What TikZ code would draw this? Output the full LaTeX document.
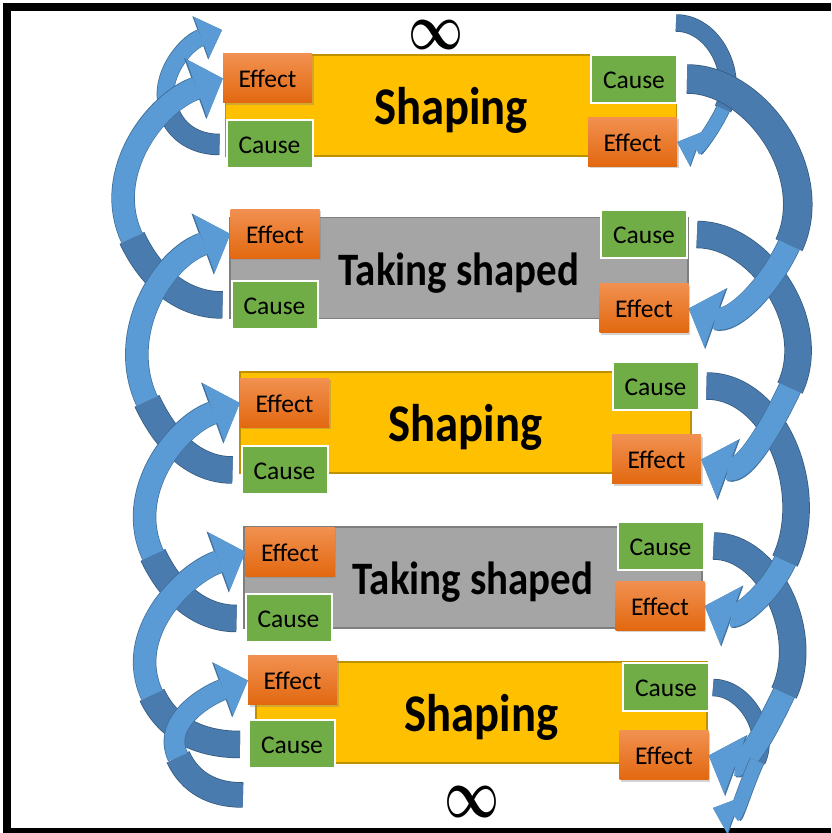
\documentclass[tikz,border=0pt]{standalone}
\usepackage{fontspec}
\setmainfont{Carlito}
\usetikzlibrary{arrows.meta,shadows}

\definecolor{barYellow}{HTML}{FFC000}
\definecolor{barYellowLine}{HTML}{BF9000}
\definecolor{barGrey}{HTML}{A5A5A5}
\definecolor{barGreyLine}{HTML}{7F7F7F}
\definecolor{effTop}{HTML}{F19050}
\definecolor{effBot}{HTML}{E2680F}
\definecolor{causeGreen}{HTML}{70AD47}
\definecolor{ribbonFront}{HTML}{5B9BD5}
\definecolor{ribbonBack}{HTML}{4A7BAE}
\definecolor{ribbonLine}{HTML}{41719C}

\tikzset{
  every node/.style={inner sep=0pt},
  shapebar/.style={fill=barYellow,draw=barYellowLine,line width=1.5pt,
    minimum width=451pt,minimum height=101pt,
    font=\fontsize{53}{60}\selectfont\bfseries,text height=39pt,text depth=0pt},
  takenbar/.style={shapebar,fill=barGrey,draw=barGreyLine,minimum width=458pt,
    font=\fontsize{46.5}{52}\selectfont\bfseries,text height=35pt},
  effbox/.style={minimum width=89pt,minimum height=49pt,
    top color=effTop,bottom color=effBot,
    drop shadow={shadow xshift=1.5pt,shadow yshift=-2pt,opacity=.35},
    font=\fontsize{25.5}{30}\selectfont,text height=19pt,text depth=0pt},
  causebox/.style={fill=causeGreen,draw=white,line width=2pt,
    minimum width=86pt,minimum height=48pt,
    font=\fontsize{25.5}{30}\selectfont,text height=18.5pt,text depth=0pt},
  backpart/.style={draw=ribbonBack,line width=#1,
    preaction={draw=ribbonLine!80!black,line width=#1+1.5pt}},
  frontpart/.style n args={3}{draw=ribbonFront,line width=#1,
    -{Triangle[width=#2,length=#3,line width=0pt]},
    preaction={draw=ribbonLine,line width=#1+1.5pt,
      -{Triangle[width=#2,length=#3,line width=0pt,scale=1.05]}}}
}

\begin{document}
\begin{tikzpicture}[x=1pt,y=1pt]
\useasboundingbox (0,0) rectangle (831,833);
% frame
\draw [black,line width=8pt] (831,826) -- (7,826) -- (7,0);
\draw [black,line width=5pt] (7,2.5) -- (831,2.5);

% bars
\node [shapebar] (bar1) at (451,727.5) {\scalebox{.88}[1]{Shaping}};
\node [takenbar] (bar2) at (459,565) {\scalebox{.88}[1]{Taking shaped}};
\node [shapebar] (bar3) at (465.5,410.5) {\scalebox{.88}[1]{Shaping}};
\node [takenbar] (bar4) at (473,255.5) {\scalebox{.88}[1]{Taking shaped}};
\node [shapebar] (bar5) at (481.5,120.5) {\scalebox{.88}[1]{Shaping}};

% effect / cause boxes
\node [effbox] (e1L) at (267.5,754.5) {Effect};
\node [causebox] (c1L) at (269.5,688.5) {Cause};
\node [causebox] (c1R) at (634,754) {Cause};
\node [effbox] (e1R) at (632.5,691) {Effect};

\node [effbox] (e2L) at (275,599) {Effect};
\node [causebox] (c2L) at (274.5,528) {Cause};
\node [causebox] (c2R) at (644,598.5) {Cause};
\node [effbox] (e2R) at (644,524.5) {Effect};

\node [effbox] (e3L) at (284.5,430) {Effect};
\node [causebox] (c3L) at (284.5,363) {Cause};
\node [causebox] (c3R) at (655.5,447) {Cause};
\node [effbox] (e3R) at (656.5,373.5) {Effect};

\node [effbox] (e4L) at (290,281) {Effect};
\node [causebox] (c4L) at (288.5,214.5) {Cause};
\node [causebox] (c4R) at (660.5,287) {Cause};
\node [effbox] (e4R) at (660,227) {Effect};

\node [effbox] (e5L) at (292.5,152.5) {Effect};
\node [causebox] (c5L) at (292,88.5) {Cause};
\node [causebox] (c5R) at (666,145.5) {Cause};
\node [effbox] (e5R) at (664,77.5) {Effect};

% infinity marks
\node (inftop) at (436,798) {\resizebox{55pt}{29pt}{\boldmath$\infty$}};
\node (infbot) at (472,31) {\resizebox{55pt}{31pt}{\boldmath$\infty$}};

% free ends and points where a ribbon turns from back to front
\coordinate (topL) at (222,803);
\coordinate (botL) at (243,38);
\coordinate (topR) at (676,810);
\coordinate (botR) at (713,25);
\coordinate (sl0) at (170,718);
\coordinate (sl1) at (132,595);
\coordinate (sl2) at (147,432);
\coordinate (sl3) at (153,278);
\coordinate (sl4) at (152,138);
\coordinate (sl5) at (178,76);
\coordinate (sr0) at (723,724);
\coordinate (sr1) at (789,588);
\coordinate (sr2) at (790,445);
\coordinate (sr3) at (785,272);
\coordinate (sr4) at (784,140);
\coordinate (sr5) at (757,72);

% back halves of the ribbons
\draw [backpart=20pt,shorten <=6pt] (c1L.west) to[out=180,in=295] (sl0);
\draw [backpart=26pt,shorten <=8pt] (c2L.west) to[out=180,in=295] (sl1);
\draw [backpart=26pt,shorten <=8pt] (c3L.west) to[out=180,in=295] (sl2);
\draw [backpart=26pt,shorten <=8pt] (c4L.west) to[out=180,in=295] (sl3);
\draw [backpart=26pt,shorten <=8pt] (c5L.west) to[out=180,in=295] (sl4);
\draw [backpart=24pt] (botL) to[out=180,in=295] (sl5);
\draw [backpart=16pt] (topR) to[out=0,in=65] (sr0);
\draw [backpart=28pt,shorten <=9pt] (c1R.east) to[out=0,in=65] (sr1);
\draw [backpart=26pt,shorten <=9pt] (c2R.east) to[out=0,in=65] (sr2);
\draw [backpart=26pt,shorten <=7pt] (c3R.east) to[out=0,in=65] (sr3);
\draw [backpart=26pt,shorten <=9pt] (c4R.east) to[out=0,in=65] (sr4);
\draw [backpart=16pt,shorten <=3pt] (c5R.east) to[out=0,in=65] (sr5);

% front halves with heads
\draw [frontpart={16pt}{44pt}{22pt}] (sl0) to[out=115,in=200] (topL);
\draw [frontpart={22pt}{62pt}{28pt}] (sl1) to[out=115,in=200] (e1L.west);
\draw [frontpart={22pt}{62pt}{28pt}] (sl2) to[out=115,in=200] (e2L.west);
\draw [frontpart={22pt}{62pt}{28pt}] (sl3) to[out=115,in=200] (e3L.west);
\draw [frontpart={22pt}{62pt}{28pt}] (sl4) to[out=115,in=200] (e4L.west);
\draw [frontpart={20pt}{56pt}{26pt}] (sl5) to[out=115,in=200] (e5L.west);
\draw [frontpart={13pt}{36pt}{20pt}] (sr0) to[out=245,in=-20] (e1R.east);
\draw [frontpart={22pt}{62pt}{28pt}] (sr1) to[out=245,in=-20] (e2R.east);
\draw [frontpart={22pt}{62pt}{28pt}] (sr2) to[out=245,in=-20] (e3R.east);
\draw [frontpart={22pt}{62pt}{28pt}] (sr3) to[out=245,in=-20] (e4R.east);
\draw [frontpart={22pt}{62pt}{28pt}] (sr4) to[out=245,in=-20] (e5R.east);
\draw [frontpart={14pt}{38pt}{22pt}] (sr5) to[out=245,in=-20] (botR);
\end{tikzpicture}
\end{document}
